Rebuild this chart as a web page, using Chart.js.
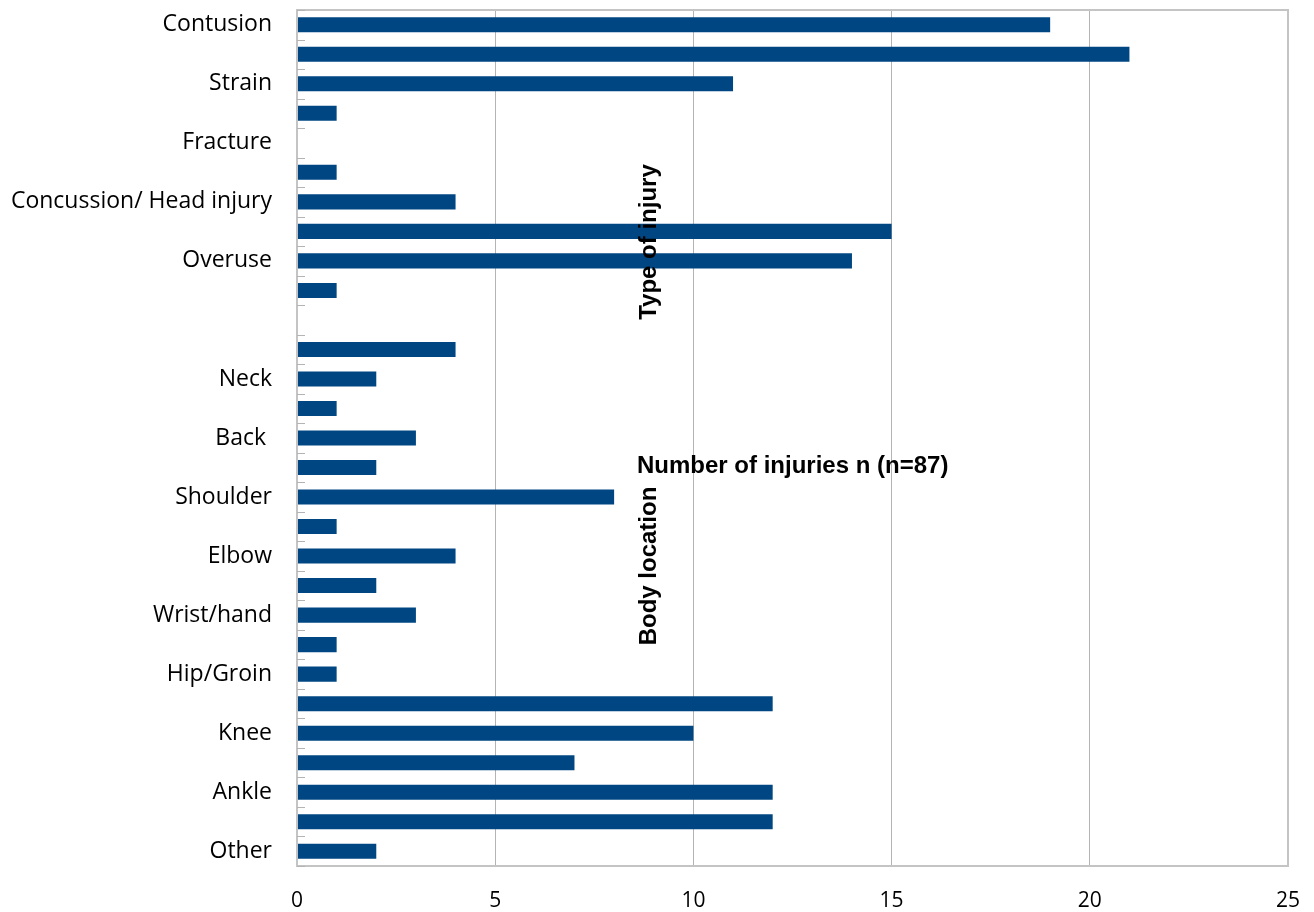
<!DOCTYPE html>
<html>
<head>
<meta charset="utf-8">
<script src="https://cdn.jsdelivr.net/npm/chart.js@4"></script>
<style>
  html, body { margin: 0; padding: 0; background: #ffffff; }
  #wrap { width: 1314px; height: 912px; position: relative; }
</style>
</head>
<body>
<div id="wrap"><canvas id="chart" width="1314" height="912"></canvas></div>
<script>
// Row labels (every other row is left unlabelled on the axis)
const categories = [
  'Contusion', '', 'Strain', '', 'Fracture', '', 'Concussion/ Head injury', '',
  'Overuse', '', '', '', 'Neck', '', 'Back ', '', 'Shoulder', '', 'Elbow', '',
  'Wrist/hand', '', 'Hip/Groin', '', 'Knee', '', 'Ankle', '', 'Other'
];
// Number of injuries per row
const injuries = [
  19, 21, 11, 1, 0, 1, 4, 15,
  14, 1, 0, 4, 2, 1, 3, 2, 8, 1, 4, 2,
  3, 1, 1, 12, 10, 7, 12, 12, 2
];
const xTicks = [0, 5, 10, 15, 20, 25];
const titleType = 'Type of injury';
const titleLocation = 'Body location';
const titleCount = 'Number of injuries n (n=87)';

const GRID = '#b4b4b4';
const FRAME = '#c4c4c4';

// Frame, inner category tick marks and the floating titles
const decorations = {
  id: 'decorations',
  afterDraw(chart) {
    const { ctx, chartArea: a, scales } = chart;
    const y = scales.y;
    ctx.save();
    ctx.strokeStyle = FRAME;
    ctx.lineWidth = 2;
    ctx.strokeRect(a.left, a.top, a.right - a.left, a.bottom - a.top);
    ctx.strokeStyle = GRID;
    ctx.lineWidth = 1;
    for (let i = 0; i <= categories.length; i++) {
      const py = Math.round(y.getPixelForValue(i - 0.5)) + 0.5;
      ctx.beginPath();
      ctx.moveTo(a.left, py);
      ctx.lineTo(a.left + 8, py);
      ctx.stroke();
    }
    ctx.fillStyle = '#000000';
    ctx.font = 'bold 24px "Liberation Sans", Arial, sans-serif';
    ctx.textBaseline = 'middle';
    ctx.textAlign = 'center';
    const drawRot = (text, x, cy) => {
      ctx.save();
      ctx.translate(x, cy);
      ctx.rotate(-Math.PI / 2);
      ctx.fillText(text, 0, 0);
      ctx.restore();
    };
    drawRot(titleType, 649, 242);
    drawRot(titleLocation, 649, 566);
    ctx.textAlign = 'left';
    ctx.fillText(titleCount, 637, 466);
    ctx.restore();
  }
};

new Chart(document.getElementById('chart'), {
  type: 'bar',
  data: {
    labels: categories,
    datasets: [{
      data: injuries,
      backgroundColor: '#004682',
      borderWidth: 0,
      categoryPercentage: 1.0,
      barPercentage: 0.51
    }]
  },
  options: {
    indexAxis: 'y',
    responsive: false,
    animation: false,
    devicePixelRatio: 1,
    layout: { padding: { left: 0, top: 10, right: 26, bottom: 0 } },
    plugins: { legend: { display: false }, tooltip: { enabled: false } },
    scales: {
      x: {
        min: 0, max: 25,
        afterBuildTicks(scale) { scale.ticks = xTicks.map(v => ({ value: v })); },
        afterFit(scale) {
          scale.height = 46;
          scale.paddingLeft = 0;
          scale.paddingRight = 0;
        },
        grid: { color: GRID, lineWidth: 1, drawTicks: false },
        border: { display: false },
        ticks: { color: '#000000', font: { family: 'Open Sans', size: 21 }, padding: 22 }
      },
      y: {
        afterFit(scale) {
          scale.width = 297;
          scale.paddingTop = 0;
          scale.paddingBottom = 0;
        },
        grid: { display: false, drawTicks: false },
        border: { display: false },
        ticks: { color: '#000000', font: { family: 'Open Sans', size: 23 }, padding: 25, autoSkip: false }
      }
    }
  },
  plugins: [decorations]
});
</script>
</body>
</html>
